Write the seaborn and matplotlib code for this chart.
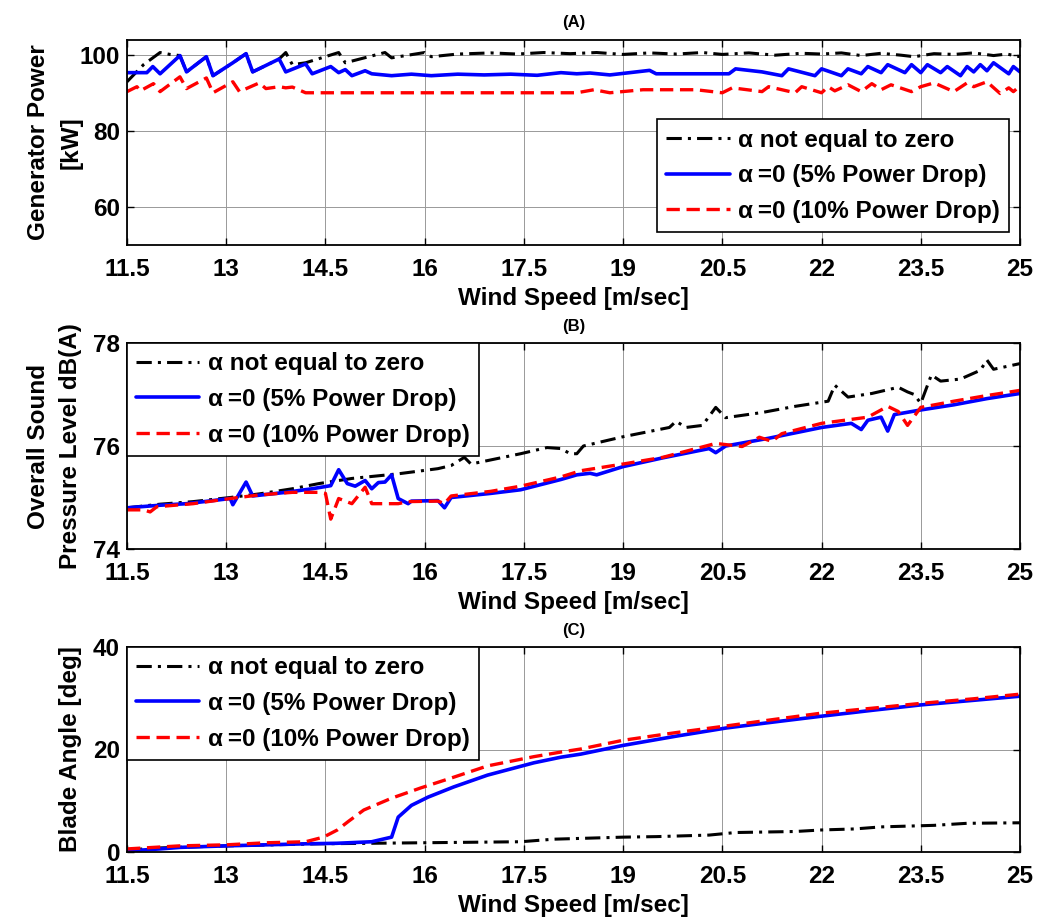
import numpy as np
import pandas as pd
import matplotlib
matplotlib.use("Agg")
import matplotlib.pyplot as plt
import seaborn as sns

# ---------------- data ----------------
x_ticks = [11.5, 13, 14.5, 16, 17.5, 19, 20.5, 22, 23.5, 25]
x_tick_labels = ["11.5", "13", "14.5", "16", "17.5", "19", "20.5", "22", "23.5", "25"]
series_labels = ["\u03b1 not equal to zero", "\u03b1\u2009=0 (5% Power Drop)", "\u03b1\u2009=0 (10% Power Drop)"]

# Panel A: generator power [kW]
power_black_x = [11.5, 11.75, 12.0, 12.15, 12.3, 12.4, 12.7, 12.8, 13.1, 13.3, 13.4, 13.8, 13.9, 14.0, 14.2,
                 14.7, 14.8, 15.4, 15.5, 16.0, 16.1, 16.5, 17.0, 17.4, 17.8, 18.2, 18.6, 19.0, 19.4, 19.8,
                 20.2, 20.5, 20.9, 21.3, 21.7, 22.0, 22.3, 22.6, 22.9, 23.2, 23.4, 23.7, 24.0, 24.3, 24.6,
                 24.8, 25.0]
power_black_y = [93.0, 97.5, 100.7, 100.2, 99.9, 95.6, 99.6, 94.6, 98.0, 100.4, 95.6, 99.0, 100.7, 97.5, 98.0,
                 100.7, 98.0, 100.7, 99.3, 100.7, 99.6, 100.3, 100.6, 100.3, 100.7, 100.4, 100.7, 100.2, 100.6, 100.3,
                 100.7, 100.2, 100.6, 100.0, 100.5, 100.3, 100.6, 99.9, 100.5, 100.0, 99.6, 100.4, 100.2, 100.6, 99.9,
                 100.3, 99.6]
power_blue_x = [11.5, 11.8, 11.89, 12.0, 12.3, 12.4, 12.7, 12.8, 13.1, 13.3, 13.4, 13.8, 13.9, 14.2, 14.3,
                14.58, 14.7, 14.8, 14.9, 15.1, 15.2, 15.5, 15.8, 16.1, 16.5, 16.9, 17.3, 17.7, 18.06, 18.3,
                18.5, 18.8, 19.2, 19.4, 19.5, 20.6, 20.7, 21.1, 21.4, 21.5, 21.9, 22.0, 22.3, 22.4, 22.6,
                22.7, 22.9, 23.0, 23.26, 23.36, 23.5, 23.6, 23.8, 23.9, 24.1, 24.2, 24.3, 24.4, 24.5, 24.6,
                24.83, 24.9, 25.0]
power_blue_y = [95.4, 95.4, 97.0, 95.1, 99.9, 95.6, 99.6, 94.6, 98.0, 100.4, 95.6, 99.0, 95.6, 97.7, 95.1,
                97.0, 95.4, 96.2, 94.6, 95.9, 95.1, 94.6, 95.0, 94.6, 95.0, 94.8, 95.0, 94.7, 95.4, 95.1,
                95.3, 94.8, 95.6, 96.0, 95.1, 95.1, 96.4, 95.6, 94.6, 96.4, 94.6, 96.4, 94.6, 96.4, 95.1,
                97.0, 95.4, 97.5, 95.4, 97.5, 95.4, 97.5, 95.4, 97.0, 94.6, 97.0, 95.6, 97.5, 95.9, 98.0,
                95.1, 97.0, 95.6]
power_red_x = [11.5, 11.65, 11.7, 11.9, 12.0, 12.3, 12.4, 12.7, 12.8, 13.1, 13.2, 13.5, 13.6, 13.8, 13.9,
               14.0, 14.2, 18.3, 18.56, 18.8, 19.3, 20.1, 20.5, 20.65, 21.1, 21.2, 21.6, 21.7, 22.0, 22.1,
               22.2, 22.4, 22.6, 22.76, 22.9, 23.05, 23.36, 23.5, 23.7, 24.0, 24.2, 24.3, 24.5, 24.7, 24.83,
               24.9, 25.0]
power_red_y = [90.4, 91.7, 90.6, 92.5, 90.4, 94.3, 91.2, 94.0, 90.1, 93.0, 90.4, 92.7, 91.2, 91.7, 91.4,
               91.6, 90.1, 90.1, 90.9, 90.1, 90.9, 90.9, 90.1, 91.4, 90.4, 91.7, 90.1, 91.7, 90.1, 91.7,
               90.6, 92.2, 90.4, 92.5, 90.9, 92.2, 90.4, 91.7, 92.7, 90.4, 92.7, 91.7, 93.0, 89.9, 91.4,
               90.4, 91.9]

# Panel B: overall sound pressure level dB(A)
spl_black_x = [11.5, 12.0, 12.5, 13.06, 13.5, 14.0, 14.4, 14.9, 15.6, 16.2, 16.4, 16.6, 16.7, 17.45, 17.85,
               18.06, 18.2, 18.3, 18.4, 19.0, 19.7, 19.8, 19.95, 20.2, 20.4, 20.55, 21.1, 21.6, 22.1, 22.2,
               22.4, 22.76, 23.16, 23.3, 23.4, 23.5, 23.66, 23.8, 24.1, 24.4, 24.5, 24.6, 25.0]
spl_black_y = [74.8, 74.87, 74.92, 75.0, 75.07, 75.17, 75.27, 75.37, 75.46, 75.56, 75.62, 75.78, 75.65, 75.85, 75.97,
               75.95, 75.85, 75.85, 76.0, 76.18, 76.36, 76.48, 76.36, 76.4, 76.75, 76.55, 76.65, 76.77, 76.87, 77.18,
               76.95, 77.02, 77.14, 77.05, 77.0, 76.83, 77.38, 77.26, 77.3, 77.47, 77.67, 77.49, 77.6]
spl_blue_x = [11.5, 12.0, 12.4, 13.06, 13.1, 13.3, 13.4, 13.9, 14.3, 14.58, 14.7, 14.83, 14.95, 15.1, 15.2,
              15.3, 15.4, 15.5, 15.6, 15.75, 15.8, 16.2, 16.3, 16.4, 17.0, 17.45, 18.06, 18.3, 18.5, 18.6,
              19.0, 19.6, 20.3, 20.4, 20.55, 21.2, 22.0, 22.45, 22.6, 22.7, 22.9, 23.0, 23.1, 23.5, 24.0,
              24.5, 25.0]
spl_blue_y = [74.8, 74.85, 74.88, 74.98, 74.86, 75.3, 75.03, 75.1, 75.17, 75.23, 75.54, 75.27, 75.22, 75.33, 75.17,
              75.29, 75.3, 75.44, 74.98, 74.88, 74.93, 74.94, 74.8, 75.0, 75.08, 75.15, 75.35, 75.44, 75.47, 75.44,
              75.6, 75.77, 75.95, 75.87, 76.0, 76.15, 76.36, 76.44, 76.32, 76.5, 76.56, 76.29, 76.61, 76.7, 76.8,
              76.92, 77.02]
spl_red_x = [11.5, 11.75, 11.85, 11.95, 12.5, 13.06, 13.5, 14.0, 14.4, 14.5, 14.58, 14.7, 14.9, 15.1, 15.2,
             15.6, 15.75, 16.2, 16.3, 16.4, 17.0, 17.45, 18.06, 18.36, 19.0, 19.6, 20.4, 20.8, 21.06, 21.25,
             21.4, 22.0, 22.7, 23.0, 23.16, 23.3, 23.5, 24.0, 24.5, 25.0]
spl_red_y = [74.76, 74.76, 74.72, 74.82, 74.88, 74.98, 75.05, 75.1, 75.1, 75.08, 74.58, 74.98, 74.88, 75.2, 74.88,
             74.88, 74.92, 74.93, 74.88, 75.03, 75.12, 75.22, 75.4, 75.52, 75.65, 75.78, 76.05, 75.99, 76.17, 76.09,
             76.24, 76.44, 76.56, 76.77, 76.67, 76.4, 76.75, 76.87, 76.98, 77.08]

# Panel C: blade angle [deg]
blade_black_x = [11.5, 12.0, 12.5, 13.0, 14.4, 15.94, 17.45, 17.95, 19.0, 19.5, 20.3, 20.7, 21.6, 22.0, 22.5,
                 22.9, 23.7, 24.2, 25.0]
blade_black_y = [0.4, 0.8, 1.0, 1.2, 1.6, 1.8, 2.0, 2.5, 2.9, 3.0, 3.3, 3.8, 4.0, 4.3, 4.5,
                 4.9, 5.2, 5.6, 5.7]
blade_blue_x = [11.5, 12.0, 12.3, 13.0, 14.2, 14.67, 15.2, 15.5, 15.6, 15.8, 16.05, 16.44, 16.95, 17.65, 18.06,
                18.36, 19.0, 19.8, 20.56, 21.3, 22.0, 22.8, 23.5, 24.3, 25.0]
blade_blue_y = [0.2, 0.6, 0.9, 1.2, 1.6, 1.7, 2.0, 2.9, 6.8, 9.1, 10.7, 12.7, 15.0, 17.4, 18.5,
                19.1, 20.8, 22.6, 24.2, 25.4, 26.5, 27.7, 28.7, 29.6, 30.4]
blade_red_x = [11.5, 12.3, 13.0, 13.6, 14.2, 14.47, 14.68, 14.85, 15.08, 15.5, 15.94, 16.44, 16.95, 17.65, 18.06,
               18.36, 19.0, 19.8, 20.56, 21.3, 22.0, 22.8, 23.5, 24.3, 25.0]
blade_red_y = [0.6, 1.2, 1.4, 1.8, 2.0, 2.9, 4.3, 6.0, 8.2, 10.5, 12.5, 14.6, 16.8, 18.6, 19.5,
               20.1, 21.8, 23.3, 24.6, 25.9, 27.1, 28.1, 29.0, 29.9, 30.8]

# ---------------- styling ----------------
sns.set_theme(style="white")
plt.rcParams["font.family"] = ["Liberation Sans", "DejaVu Sans"]
plt.rcParams["font.weight"] = "bold"
plt.rcParams["axes.labelweight"] = "bold"
plt.rcParams["axes.titleweight"] = "bold"

fig = plt.figure(figsize=(10.39, 9.21), dpi=100)
W, H = 1039.0, 921.0

panels = [
    dict(title="(A)", top=40, bottom=245, ylim=(50, 104), yticks=[60, 80, 100],
         ylabel="Generator Power\n[kW]",
         data=[(power_black_x, power_black_y), (power_blue_x, power_blue_y), (power_red_x, power_red_y)],
         legend=dict(loc="lower right", bbox_to_anchor=(0.988, 0.063))),
    dict(title="(B)", top=343, bottom=549, ylim=(74, 78), yticks=[74, 76, 78],
         ylabel="Overall Sound\nPressure Level dB(A)",
         data=[(spl_black_x, spl_black_y), (spl_blue_x, spl_blue_y), (spl_red_x, spl_red_y)],
         legend=dict(loc="upper left", bbox_to_anchor=(0.0, 1.0))),
    dict(title="(C)", top=647, bottom=852, ylim=(0, 40), yticks=[0, 20, 40],
         ylabel="Blade Angle [deg]",
         data=[(blade_black_x, blade_black_y), (blade_blue_x, blade_blue_y), (blade_red_x, blade_red_y)],
         legend=dict(loc="upper left", bbox_to_anchor=(0.0, 1.0))),
]

line_styles = [
    dict(color="black", lw=2.2, dashes=(5, 2, 1, 2)),
    dict(color="#0000ff", lw=2.6, dashes=None),
    dict(color="#ff0000", lw=2.4, dashes=(4, 2)),
]

left, right = 127, 1020
for p in panels:
    ax = fig.add_axes([left / W, 1 - p["bottom"] / H, (right - left) / W, (p["bottom"] - p["top"]) / H])
    for (xs, ys), lab, st in zip(p["data"], series_labels, line_styles):
        df = pd.DataFrame({"x": xs, "y": ys})
        sns.lineplot(data=df, x="x", y="y", ax=ax, color=st["color"], lw=st["lw"],
                     label=lab, estimator=None, sort=False)
        ln = ax.get_lines()[-1]
        if st["dashes"] is not None:
            ln.set_dashes(st["dashes"])
    ax.set_xlim(11.5, 25)
    ax.set_ylim(*p["ylim"])
    ax.set_xticks(x_ticks)
    ax.set_xticklabels(x_tick_labels)
    ax.set_yticks(p["yticks"])
    ax.grid(True, color="0.6", lw=0.7, ls="-")
    ax.set_axisbelow(True)
    for s in ax.spines.values():
        s.set_color("black")
        s.set_linewidth(1.3)
    ax.tick_params(axis="both", direction="in", length=5, width=1, colors="black",
                   labelsize=17.5, top=True, right=True, bottom=True, left=True)
    ax.tick_params(axis="x", pad=9)
    ax.tick_params(axis="y", pad=5)
    for t in ax.get_xticklabels() + ax.get_yticklabels():
        t.set_fontweight("bold")
    ax.set_xlabel("Wind Speed [m/sec]", fontsize=17.5, fontweight="bold", color="black")
    ax.xaxis.set_label_coords(0.5, -0.205)
    ax.set_ylabel(p["ylabel"], fontsize=17.5, fontweight="bold", color="black", linespacing=1.5)
    ax.yaxis.set_label_coords(-0.05, 0.5)
    ax.set_title(p["title"], fontsize=12, fontweight="bold", pad=9, color="black")
    leg = ax.legend(prop=dict(size=17.5, weight="bold"), frameon=True, fancybox=False,
                    framealpha=1, edgecolor="black", handlelength=2.6, handletextpad=0.35,
                    labelspacing=0.52, borderpad=0.38, borderaxespad=0.0, **p["legend"])
    leg.get_frame().set_linewidth(1.2)
    for t in leg.get_texts():
        t.set_color("black")

fig.savefig("out.png", dpi=100)
